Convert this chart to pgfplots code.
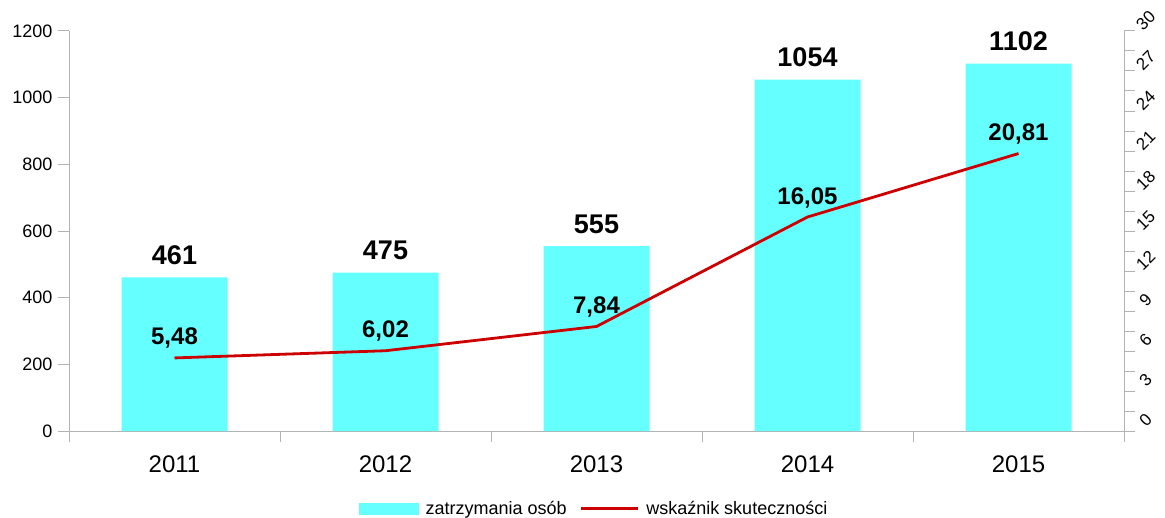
\documentclass[border=0pt]{standalone}
\usepackage{fontspec}
\setmainfont{Liberation Sans}
\usepackage{pgfplots}
\pgfplotsset{compat=1.18}
\definecolor{barc}{HTML}{66FFFF}
\definecolor{linec}{HTML}{CC0000}
\definecolor{axc}{HTML}{B3B3B3}
\begin{document}
\begin{tikzpicture}
\begin{axis}[
  scale only axis, width=1055pt, height=400pt,
  xmin=-0.5, xmax=4.5, ymin=0, ymax=1200,
  axis x line*=bottom, axis y line*=left,
  axis line style={axc, line width=1pt, -},
  xtick={0,1,2,3,4}, xticklabels={2011,2012,2013,2014,2015},
  major x tick style={draw=none},
  minor xtick={-0.5,0.5,1.5,2.5,3.5,4.5},
  ytick={0,200,...,1200},
  tick style={axc, line width=1pt},
  tick align=outside, major tick length=11pt, minor tick length=11pt,
  xticklabel style={font=\fontsize{24}{24}\selectfont, yshift=-10pt},
  yticklabel style={font=\fontsize{18}{18}\selectfont, xshift=-2pt},
  /pgf/number format/assume math mode=true,
  /pgf/number format/1000 sep={},
  legend style={at={(0.5,-0.165)}, anchor=north, draw=none, legend columns=2,
    font=\fontsize{18}{18}\selectfont,
    nodes={inner xsep=7pt},
    /tikz/every even column/.append style={column sep=6pt}},
  legend cell align=left,
]
\addplot[ybar, bar width=106pt, fill=barc, draw=none,
  nodes near coords,
  nodes near coords style={font=\bfseries\fontsize{27}{27}\selectfont, anchor=base, inner sep=0pt, yshift=13pt, text=black},
  legend image code/.code={\fill[barc] (0pt,-6pt) rectangle (60pt,6pt);}
  ] coordinates {(0,461) (1,475) (2,555) (3,1054) (4,1102)};
\addlegendentry{zatrzymania osób}
\addlegendimage{legend image code/.code={\draw[linec,line width=2.5pt] (0pt,0pt) -- (57pt,0pt);}}
\addlegendentry{wskaźnik skuteczności}
\coordinate (sw) at (rel axis cs:0,0);
\coordinate (ne) at (rel axis cs:1,1);
\end{axis}
\begin{axis}[
  scale only axis, width=1055pt, height=400pt,
  xmin=-0.5, xmax=4.5, ymin=0, ymax=30,
  axis x line=none, axis y line*=right,
  axis line style={axc, line width=1pt, -},
  ytick={0,3,...,30}, minor y tick num=1,
  tick style={axc, line width=1pt},
  tick align=outside, major tick length=11pt, minor tick length=11pt,
  yticklabel style={font=\fontsize{17}{17}\selectfont, rotate=45, anchor=center, xshift=15pt},
  /pgf/number format/assume math mode=true,
]
\addplot[linec, line width=2.8pt, mark=none,
  nodes near coords,
  nodes near coords style={font=\bfseries\fontsize{24}{24}\selectfont, anchor=base, inner sep=0pt, yshift=13pt, text=black,
    /pgf/number format/.cd, fixed, fixed zerofill, precision=2, use comma},
  ] coordinates {(0,5.48) (1,6.02) (2,7.84) (3,16.05) (4,20.81)};
\end{axis}
\pgfresetboundingbox
\path (sw) ++(-69pt,-86pt) coordinate (bbl);
\path (ne) ++(41pt,31pt) coordinate (btr);
\useasboundingbox (bbl) rectangle (btr);
\end{tikzpicture}
\end{document}
